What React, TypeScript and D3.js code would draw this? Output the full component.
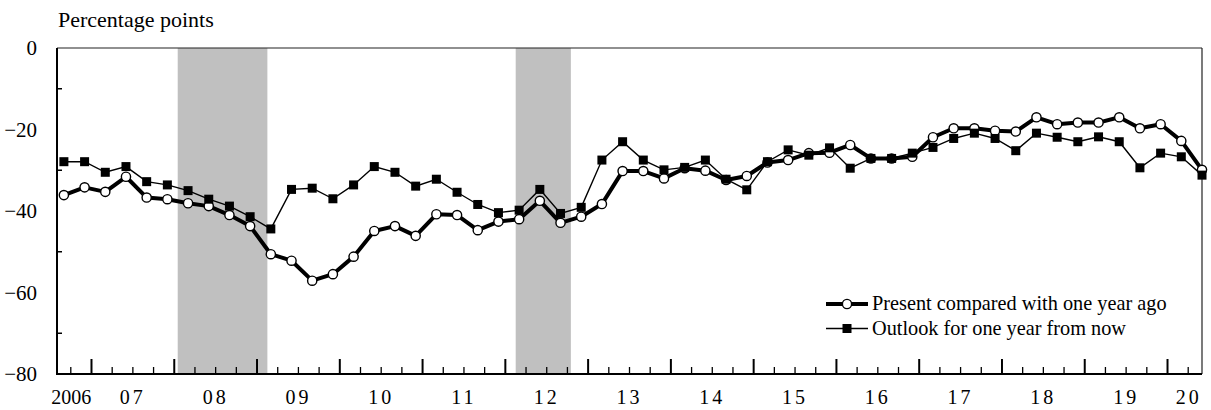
import React, { useEffect, useRef } from 'react';
import * as d3 from 'd3';

// survey results, quarterly from Sep 2006 to Jun 2020 (DI, percentage points)
const firstSurvey = [2006, 9];
const present = [
  -36.1, -34.2, -35.3, -31.6, -36.7, -37.1, -38.1, -38.8, -41.0,
  -43.7, -50.6, -52.2, -57.1, -55.5, -51.2, -44.9, -43.7, -46.1, -40.8,
  -41.0, -44.7, -42.6, -42.0, -37.5, -42.9, -41.4, -38.3, -30.2,
  -30.2, -32.0, -29.5, -30.1, -32.4, -31.4, -28.1, -27.5, -25.8,
  -25.7, -23.8, -27.1, -27.1, -26.7, -21.9, -19.7, -19.7, -20.3,
  -20.5, -17.0, -18.7, -18.3, -18.3, -17.0, -19.7, -18.7, -22.8, -29.9,
];
const outlook = [
  -27.9, -27.9, -30.5, -29.1, -32.8, -33.6, -35.0, -37.1, -38.8,
  -41.4, -44.4, -34.7, -34.4, -37.0, -33.6, -29.1, -30.5, -33.9, -32.2,
  -35.4, -38.4, -40.4, -39.8, -34.7, -40.6, -39.1, -27.5, -23.0,
  -27.5, -29.9, -29.3, -27.5, -32.2, -34.8, -27.9, -25.0, -26.3,
  -24.5, -29.5, -27.1, -27.1, -25.8, -24.4, -22.2, -20.9, -22.2,
  -25.2, -20.9, -21.9, -23.0, -21.8, -23.0, -29.4, -25.8, -26.7, -31.2,
];
// recessions: peak month, trough month
const recessions = [
  [[2008, 2], [2009, 3]],
  [[2012, 3], [2012, 11]],
];
const years = [2006, 2007, 2008, 2009, 2010, 2011, 2012, 2013, 2014, 2015, 2016, 2017, 2018, 2019, 2020];
const yearLabels = ['2006', '07', '08', '09', '10', '11', '12', '13', '14', '15', '16', '17', '18', '19', '20'];
const yTicks = [0, -20, -40, -60, -80];
const seriesNames = ['Present compared with one year ago', 'Outlook for one year from now'];

const W = 1211, H = 410;
const FONT = '"Liberation Serif", "Times New Roman", serif';

// months counted from Jan 2006
const mi = (y: number, m: number) => (y - 2006) * 12 + (m - 1);

const draw = (node: SVGSVGElement) => {
  const svg = d3.select(node);
  svg.selectAll('*').remove();

  const margin = { top: 48, right: 9, bottom: 36, left: 57 };
  const x0 = margin.left, x1 = W - margin.right;
  const y0 = margin.top, y1 = H - margin.bottom;

  const start = mi(2006, 8), end = mi(2020, 6);
  const x = d3.scaleLinear().domain([start, end]).range([x0, x1]);
  const y = d3.scaleLinear().domain([-80, 0]).range([y1, y0]);

  const t0 = mi(firstSurvey[0], firstSurvey[1]);
  const months = present.map((_, i) => t0 + 3 * i);

  // shaded recessions
  svg.append('g').selectAll('rect')
    .data(recessions)
    .enter().append('rect')
    .attr('x', d => x(mi(d[0][0], d[0][1]) - 0.5))
    .attr('width', d => x(mi(d[1][0], d[1][1]) - 0.5) - x(mi(d[0][0], d[0][1]) - 0.5))
    .attr('y', y0)
    .attr('height', y1 - y0)
    .attr('fill', '#c0c0c0');

  // frame
  svg.append('line').attr('x1', x0).attr('x2', x1).attr('y1', y0).attr('y2', y0)
    .attr('stroke', '#222').attr('stroke-width', 1.2);
  svg.append('line').attr('x1', x1).attr('x2', x1).attr('y1', y0).attr('y2', y1)
    .attr('stroke', '#222').attr('stroke-width', 1.2);

  // y minor ticks (inside)
  svg.append('g').selectAll('line')
    .data(d3.range(-70, 0, 20))
    .enter().append('line')
    .attr('x1', x0).attr('x2', x0 + 5)
    .attr('y1', d => y(d)).attr('y2', d => y(d))
    .attr('stroke', '#000').attr('stroke-width', 1.5);

  // y labels
  svg.append('g').selectAll('text')
    .data(yTicks)
    .enter().append('text')
    .attr('x', x0 - 20)
    .attr('y', d => y(d))
    .attr('dy', '0.35em')
    .attr('text-anchor', 'end')
    .attr('font-family', FONT).attr('font-size', 21)
    .text(d => d3.format('d')(d));

  // x ticks: quarterly minor, yearly major
  const minor = d3.range(mi(2006, 10), end, 3).filter(t => (t % 12) !== 0);
  const major = years.slice(1).map(yr => mi(yr, 1));
  svg.append('g').selectAll('line')
    .data(minor)
    .enter().append('line')
    .attr('x1', d => x(d)).attr('x2', d => x(d))
    .attr('y1', y1).attr('y2', y1 - 7)
    .attr('stroke', '#000').attr('stroke-width', 1.3);
  svg.append('g').selectAll('line')
    .data(major)
    .enter().append('line')
    .attr('x1', d => x(d)).attr('x2', d => x(d))
    .attr('y1', y1).attr('y2', y1 - 15)
    .attr('stroke', '#000').attr('stroke-width', 2);

  // x labels centred in the visible part of each year
  svg.append('g').selectAll('text')
    .data(years)
    .enter().append('text')
    .attr('x', (yr) => {
      const a = Math.max(start, mi(yr, 1)), b = Math.min(end, mi(yr + 1, 1));
      return x((a + b) / 2);
    })
    .attr('dx', (_, i) => (i === 0 ? -3 : i === years.length - 1 ? 4 : 0))
    .attr('y', 404)
    .attr('text-anchor', 'middle')
    .attr('font-family', FONT).attr('font-size', 20)
    .attr('letter-spacing', (_, i) => (i === 0 ? 0 : 3))
    .text((_, i) => yearLabels[i]);

  // axes
  svg.append('line').attr('x1', x0).attr('x2', x0).attr('y1', y0).attr('y2', y1 + 1)
    .attr('stroke', '#000').attr('stroke-width', 2);
  svg.append('line').attr('x1', x0).attr('x2', x1).attr('y1', y1).attr('y2', y1)
    .attr('stroke', '#000').attr('stroke-width', 2);

  const line = d3.line<number>()
    .x((_, i) => x(months[i]))
    .y(d => y(d));

  // present
  svg.append('path').datum(present)
    .attr('d', line)
    .attr('fill', 'none').attr('stroke', '#000').attr('stroke-width', 4)
    .attr('stroke-linejoin', 'round');
  svg.append('g').selectAll('circle')
    .data(present)
    .enter().append('circle')
    .attr('cx', (_, i) => x(months[i]))
    .attr('cy', d => y(d))
    .attr('r', 4.6)
    .attr('fill', '#fff').attr('stroke', '#000').attr('stroke-width', 1.4);

  // outlook
  svg.append('path').datum(outlook)
    .attr('d', line)
    .attr('fill', 'none').attr('stroke', '#000').attr('stroke-width', 1.4);
  svg.append('g').selectAll('rect')
    .data(outlook)
    .enter().append('rect')
    .attr('x', (_, i) => x(months[i]) - 4.5)
    .attr('y', d => y(d) - 4.5)
    .attr('width', 9).attr('height', 9)
    .attr('fill', '#000');

  // legend
  const lg = svg.append('g').attr('transform', 'translate(826,0)');
  lg.append('line').attr('x1', 0).attr('x2', 42).attr('y1', 304).attr('y2', 304)
    .attr('stroke', '#000').attr('stroke-width', 4);
  lg.append('circle').attr('cx', 21).attr('cy', 304).attr('r', 4.6)
    .attr('fill', '#fff').attr('stroke', '#000').attr('stroke-width', 1.4);
  lg.append('line').attr('x1', 0).attr('x2', 42).attr('y1', 328.5).attr('y2', 328.5)
    .attr('stroke', '#000').attr('stroke-width', 1.4);
  lg.append('rect').attr('x', 16.5).attr('y', 324).attr('width', 9).attr('height', 9)
    .attr('fill', '#000');
  lg.selectAll('text')
    .data(seriesNames)
    .enter().append('text')
    .attr('x', 46)
    .attr('y', (_, i) => 310 + i * 25)
    .attr('font-family', FONT).attr('font-size', 20.3)
    .text(d => d);

  // unit label
  svg.append('text')
    .attr('x', 58).attr('y', 27)
    .attr('font-family', FONT).attr('font-size', 22)
    .text('Percentage points');
};

const App = () => {
  const ref = useRef<SVGSVGElement>(null);
  useEffect(() => {
    if (ref.current) draw(ref.current);
  }, []);
  return (
    <div style={{ position: 'absolute', left: 0, top: 0 }}>
      <svg ref={ref} width={W} height={H} style={{ display: 'block', background: '#fff' }} />
    </div>
  );
};

export default App;
